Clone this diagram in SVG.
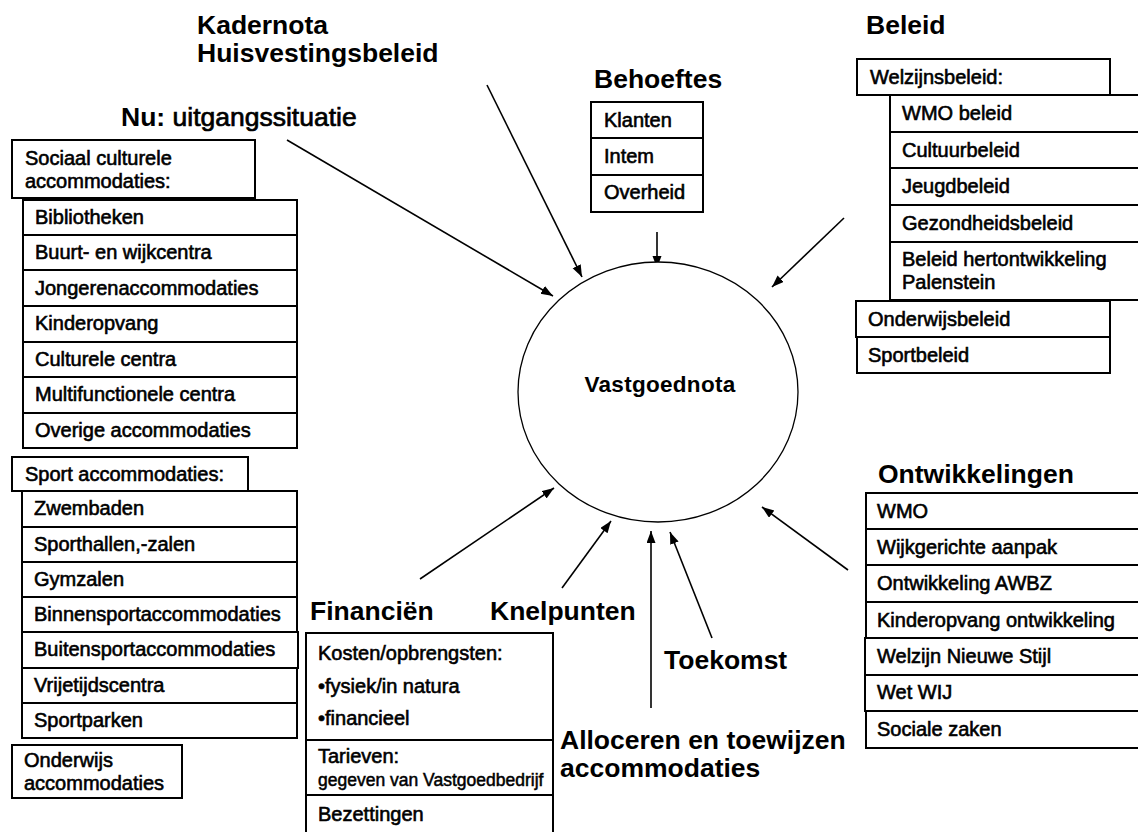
<svg xmlns="http://www.w3.org/2000/svg" width="1138" height="832" viewBox="0 0 1138 832">
<defs>
<marker id="ah" markerUnits="userSpaceOnUse" markerWidth="14" markerHeight="11" refX="12" refY="4.5" orient="auto">
<path d="M0,0 L12,4.5 L0,9 z" fill="#000"/>
</marker>
<style>
text{font-family:"Liberation Sans",Arial,sans-serif;fill:#000}
.t{font-size:20px;stroke:#000;stroke-width:0.6}
.s{font-size:17.5px;stroke:#000;stroke-width:0.5}
.h{font-size:26.5px;font-weight:bold}
.hn{font-size:26.5px;stroke:#000;stroke-width:0.7}
.c{font-size:22.5px;font-weight:bold;letter-spacing:0.3px}
rect{fill:#fff;stroke:#000;stroke-width:2}
.con line{stroke:#000;stroke-width:1.6;marker-end:url(#ah)}
</style>
</defs>
<rect x="0" y="0" width="1138" height="832" style="stroke:none"/>

<g id="connectors" class="con">
<line x1="287" y1="140" x2="553" y2="296"/>
<line x1="487" y1="85" x2="582" y2="277"/>
<line x1="657" y1="232" x2="657" y2="268"/>
<line x1="844" y1="218" x2="772" y2="287"/>
<line x1="848" y1="570" x2="762" y2="507"/>
<line x1="420" y1="579" x2="554" y2="488"/>
<line x1="562" y1="588" x2="611" y2="521"/>
<line x1="651" y1="708" x2="651" y2="531"/>
<line x1="712" y1="638" x2="670" y2="532"/>
</g>

<g id="vastgoednota">
<ellipse cx="658" cy="392" rx="140" ry="130" fill="#fff" stroke="#000" stroke-width="1.3"/>
<text class="c" x="660" y="392" text-anchor="middle">Vastgoednota</text>
</g>

<g id="kadernota">
<text class="h" x="197" y="34">Kadernota</text>
<text class="h" x="197" y="62">Huisvestingsbeleid</text>
</g>

<g id="nu">
<text x="121" y="126"><tspan class="h">Nu:</tspan><tspan class="hn"> uitgangssituatie</tspan></text>
</g>

<g id="sociaal">
<rect x="12" y="140" width="243" height="58"/>
<text class="t" x="25" y="165">Sociaal culturele</text>
<text class="t" x="25" y="188">accommodaties:</text>
<rect x="23" y="200" width="274" height="35"/>
<rect x="23" y="235" width="274" height="35"/>
<rect x="23" y="270" width="274" height="36"/>
<rect x="23" y="306" width="274" height="36"/>
<rect x="23" y="342" width="274" height="35"/>
<rect x="23" y="377" width="274" height="36"/>
<rect x="23" y="413" width="274" height="35"/>
<text class="t" x="35" y="224">Bibliotheken</text>
<text class="t" x="35" y="259">Buurt- en wijkcentra</text>
<text class="t" x="35" y="295">Jongerenaccommodaties</text>
<text class="t" x="35" y="330">Kinderopvang</text>
<text class="t" x="35" y="366">Culturele centra</text>
<text class="t" x="35" y="401">Multifunctionele centra</text>
<text class="t" x="35" y="437">Overige accommodaties</text>
</g>

<g id="sport">
<rect x="12" y="457" width="236" height="34"/>
<text class="t" x="25" y="481">Sport accommodaties:</text>
<rect x="22" y="491" width="275" height="36"/>
<rect x="22" y="527" width="275" height="35"/>
<rect x="22" y="562" width="275" height="35"/>
<rect x="22" y="597" width="275" height="35"/>
<rect x="22" y="668" width="275" height="35"/>
<rect x="22" y="703" width="275" height="35"/>
<rect x="22" y="632" width="276" height="36"/>
<text class="t" x="34" y="515">Zwembaden</text>
<text class="t" x="34" y="551">Sporthallen,-zalen</text>
<text class="t" x="34" y="586">Gymzalen</text>
<text class="t" x="34" y="621">Binnensportaccommodaties</text>
<text class="t" x="34" y="656">Buitensportaccommodaties</text>
<text class="t" x="34" y="692">Vrijetijdscentra</text>
<text class="t" x="34" y="727">Sportparken</text>
</g>

<g id="onderwijs">
<rect x="12" y="745" width="170" height="53"/>
<text class="t" x="24" y="767">Onderwijs</text>
<text class="t" x="24" y="790">accommodaties</text>
</g>

<g id="behoeftes">
<text class="h" x="594" y="88">Behoeftes</text>
<rect x="591" y="102" width="112" height="36"/>
<rect x="591" y="138" width="112" height="37"/>
<rect x="591" y="175" width="112" height="37"/>
<text class="t" x="604" y="127">Klanten</text>
<text class="t" x="604" y="163">Intem</text>
<text class="t" x="604" y="199">Overheid</text>
</g>

<g id="beleid">
<text class="h" x="866" y="34">Beleid</text>
<rect x="857" y="59" width="253" height="36"/>
<text class="t" x="870" y="84">Welzijnsbeleid:</text>
<rect x="890" y="95" width="250" height="37"/>
<rect x="890" y="132" width="250" height="36"/>
<rect x="890" y="168" width="250" height="37"/>
<rect x="890" y="205" width="250" height="37"/>
<rect x="890" y="242" width="250" height="58"/>
<text class="t" x="902" y="120">WMO beleid</text>
<text class="t" x="902" y="157">Cultuurbeleid</text>
<text class="t" x="902" y="193">Jeugdbeleid</text>
<text class="t" x="902" y="230">Gezondheidsbeleid</text>
<text class="t" x="902" y="266">Beleid hertontwikkeling</text>
<text class="t" x="902" y="289">Palenstein</text>
<rect x="856" y="301" width="254" height="36"/>
<rect x="857" y="337" width="253" height="36"/>
<text class="t" x="868" y="326">Onderwijsbeleid</text>
<text class="t" x="868" y="362">Sportbeleid</text>
</g>

<g id="ontwikkelingen">
<text class="h" x="878" y="483">Ontwikkelingen</text>
<rect x="866" y="493" width="274" height="36"/>
<rect x="866" y="529" width="274" height="36"/>
<rect x="866" y="565" width="274" height="37"/>
<rect x="866" y="602" width="274" height="36"/>
<rect x="866" y="711" width="274" height="37"/>
<rect x="865" y="638" width="275" height="37"/>
<rect x="865" y="675" width="275" height="36"/>
<text class="t" x="877" y="518">WMO</text>
<text class="t" x="877" y="554">Wijkgerichte aanpak</text>
<text class="t" x="877" y="590">Ontwikkeling AWBZ</text>
<text class="t" x="877" y="627">Kinderopvang ontwikkeling</text>
<text class="t" x="877" y="663">Welzijn Nieuwe Stijl</text>
<text class="t" x="877" y="699">Wet WIJ</text>
<text class="t" x="877" y="736">Sociale zaken</text>
</g>

<g id="financien">
<text class="h" x="310" y="620">Financiën</text>
<rect x="306" y="633" width="247" height="107"/>
<rect x="306" y="740" width="247" height="55"/>
<rect x="306" y="795" width="247" height="45"/>
<text class="t" x="318" y="660">Kosten/opbrengsten:</text>
<text class="t" x="318" y="693">•fysiek/in natura</text>
<text class="t" x="318" y="725">•financieel</text>
<text class="t" x="318" y="763">Tarieven:</text>
<text class="s" x="318" y="786">gegeven van Vastgoedbedrijf</text>
<text class="t" x="318" y="821">Bezettingen</text>
</g>

<g id="knelpunten">
<text class="h" x="490" y="620">Knelpunten</text>
</g>

<g id="toekomst">
<text class="h" x="664" y="669">Toekomst</text>
</g>

<g id="alloceren">
<text class="h" x="560" y="749">Alloceren en toewijzen</text>
<text class="h" x="560" y="777">accommodaties</text>
</g>
</svg>
